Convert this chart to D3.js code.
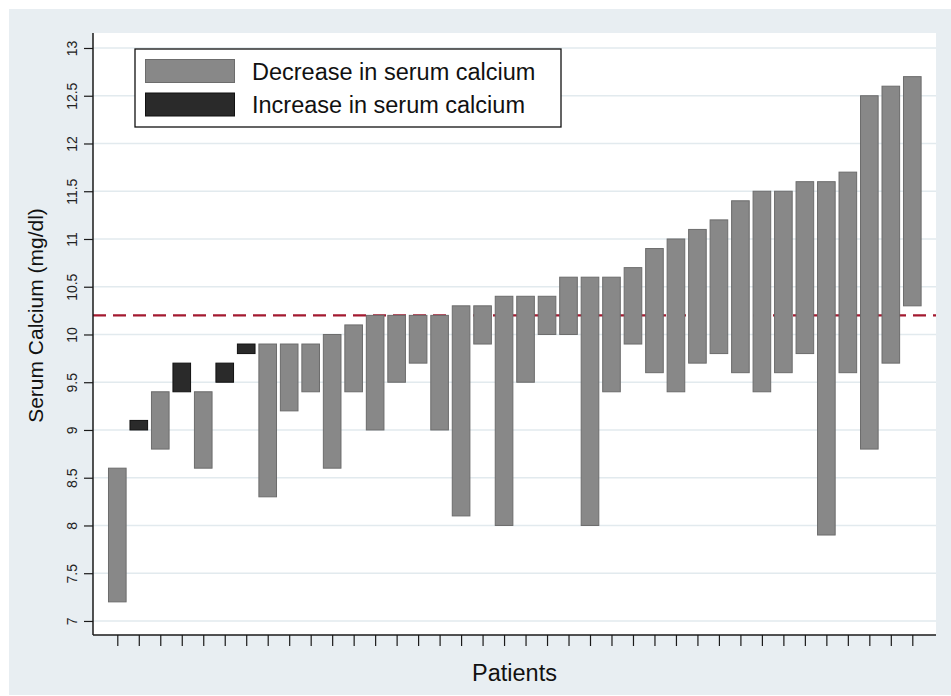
<!DOCTYPE html>
<html>
<head>
<meta charset="utf-8">
<script src="https://cdn.jsdelivr.net/npm/d3@7"></script>
<style>
    html, body { margin: 0; padding: 0; background: #ffffff; }
    svg { display: block; font-family: "Liberation Sans", Arial, sans-serif; }
</style>
</head>
<body>
<svg id="chart" width="951" height="696"></svg>
<script>
// Patients sorted by the higher of the two readings
const patients = d3.range(1, 39);
// Serum calcium before (baseline) and after (follow-up), mg/dl
const baseline = [8.6, 9.0, 9.4, 9.4, 9.4, 9.5, 9.8, 9.9, 9.9, 9.9, 10.0, 10.1, 10.2, 10.2, 10.2, 10.2, 10.3, 10.3, 10.4, 10.4,
                  10.4, 10.6, 10.6, 10.6, 10.7, 10.9, 11.0, 11.1, 11.2, 11.4, 11.5, 11.5, 11.6, 11.6, 11.7, 12.5, 12.6, 12.7];
const followUp = [7.2, 9.1, 8.8, 9.7, 8.6, 9.7, 9.9, 8.3, 9.2, 9.4, 8.6, 9.4, 9.0, 9.5, 9.7, 9.0, 8.1, 9.9, 8.0, 9.5,
                  10.0, 10.0, 8.0, 9.4, 9.9, 9.6, 9.4, 9.7, 9.8, 9.6, 9.4, 9.6, 9.8, 7.9, 9.6, 8.8, 9.7, 10.3];
const yTicks = [7, 7.5, 8, 8.5, 9, 9.5, 10, 10.5, 11, 11.5, 12, 12.5, 13];
const upperNormal = 10.2;
const legendLabels = ["Decrease in serum calcium", "Increase in serum calcium"];

const colors = {
    decrease: { fill: "#888888", stroke: "#6c6c6c" },
    increase: { fill: "#2a2a2a", stroke: "#111111" }
};

const svg = d3.select("#chart");

// --- 1. Background and plot region ---
const plot = { left: 93, right: 936, top: 33, bottom: 635 };

svg.append("rect")
    .attr("x", 9).attr("y", 9)
    .attr("width", 951 - 9).attr("height", 695 - 9)
    .attr("fill", "#e8eef2");

svg.append("rect")
    .attr("x", plot.left).attr("y", plot.top)
    .attr("width", plot.right - plot.left).attr("height", plot.bottom - plot.top)
    .attr("fill", "#ffffff");

// --- 2. Scales ---
const x = d3.scalePoint()
    .domain(patients)
    .range([117.3, 912.3]);

const y = d3.scaleLinear()
    .domain([6.853, 13.157])
    .range([plot.bottom, plot.top]);

const barWidth = x.step() * 0.82;

// Grid lines
svg.append("g")
    .selectAll("line")
    .data(yTicks)
    .enter()
    .append("line")
    .attr("x1", plot.left).attr("x2", plot.right)
    .attr("y1", d => y(d)).attr("y2", d => y(d))
    .attr("stroke", "#e2eaee")
    .attr("stroke-width", 1.5);

// Reference line (upper limit of normal) sits behind the bars
svg.append("line")
    .attr("x1", plot.left).attr("x2", plot.right)
    .attr("y1", y(upperNormal)).attr("y2", y(upperNormal))
    .attr("stroke", "#a3192f")
    .attr("stroke-width", 2.2)
    .attr("stroke-dasharray", "13,7");

// --- 3. Bars (range between the two readings) ---
const rows = patients.map((p, i) => ({
    id: p,
    base: baseline[i],
    follow: followUp[i],
    kind: followUp[i] > baseline[i] ? "increase" : "decrease"
}));

svg.append("g")
    .selectAll("rect")
    .data(rows)
    .enter()
    .append("rect")
    .attr("x", d => x(d.id) - barWidth / 2)
    .attr("width", barWidth)
    .attr("y", d => y(Math.max(d.base, d.follow)))
    .attr("height", d => y(Math.min(d.base, d.follow)) - y(Math.max(d.base, d.follow)))
    .attr("fill", d => colors[d.kind].fill)
    .attr("stroke", d => colors[d.kind].stroke)
    .attr("stroke-width", 1);

// --- 4. Axes ---
const yAxis = svg.append("g")
    .attr("transform", `translate(${plot.left},0)`)
    .call(d3.axisLeft(y).tickValues(yTicks).tickSize(9).tickSizeOuter(0).tickFormat(d3.format("")));

yAxis.select(".domain").attr("d", `M0,${plot.top}V${plot.bottom}`).attr("stroke", "#1a1a1a").attr("stroke-width", 1.5);
yAxis.selectAll(".tick line").attr("stroke", "#1a1a1a").attr("stroke-width", 1.2);
yAxis.selectAll(".tick text")
    .attr("transform", "rotate(-90)")
    .attr("x", 0)
    .attr("y", -16)
    .attr("dy", 0)
    .attr("text-anchor", "middle")
    .attr("fill", "#222")
    .style("font-size", "14px");

const xAxis = svg.append("g")
    .attr("transform", `translate(0,${plot.bottom})`)
    .call(d3.axisBottom(x).tickSize(11).tickSizeOuter(0).tickFormat(""));

xAxis.select(".domain").attr("d", `M${plot.left},0H${plot.right}`).attr("stroke", "#1a1a1a").attr("stroke-width", 1.5);
xAxis.selectAll(".tick line").attr("stroke", "#1a1a1a").attr("stroke-width", 1.2);

// Axis titles
svg.append("text")
    .attr("transform", "translate(43,315.5) rotate(-90)")
    .attr("text-anchor", "middle")
    .style("font-size", "21px")
    .attr("fill", "#111")
    .text("Serum Calcium (mg/dl)");

svg.append("text")
    .attr("x", (plot.left + plot.right) / 2)
    .attr("y", 681)
    .attr("text-anchor", "middle")
    .style("font-size", "23.5px")
    .attr("fill", "#111")
    .text("Patients");

// --- 5. Legend ---
const legend = svg.append("g");

legend.append("rect")
    .attr("x", 135).attr("y", 49)
    .attr("width", 426).attr("height", 78)
    .attr("fill", "#ffffff")
    .attr("stroke", "#111")
    .attr("stroke-width", 1.3);

["decrease", "increase"].forEach((kind, i) => {
    legend.append("rect")
        .attr("x", 145.5).attr("y", 59.5 + i * 33.5)
        .attr("width", 89).attr("height", 23)
        .attr("fill", colors[kind].fill)
        .attr("stroke", colors[kind].stroke);

    legend.append("text")
        .attr("x", 252).attr("y", 80 + i * 33)
        .style("font-size", "23.5px")
        .attr("fill", "#111")
        .text(legendLabels[i]);
});
</script>
</body>
</html>
